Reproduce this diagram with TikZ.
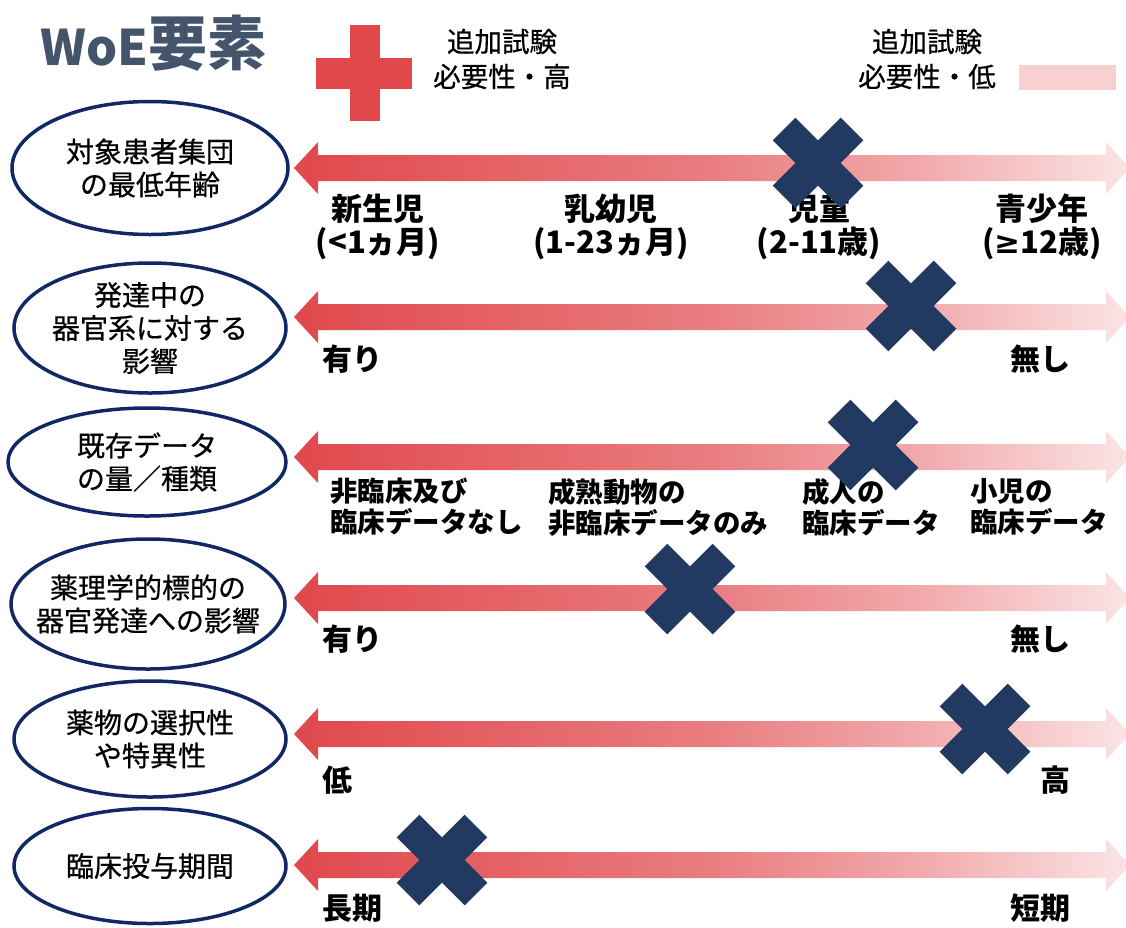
\documentclass[tikz,border=0pt]{standalone}
\usepackage{fontspec}
\setmainfont{Noto Sans CJK JP}
\newfontfamily\medfont{Noto Sans CJK JP}[FakeBold=0.6]
\newfontfamily\dvfont{DejaVu Sans}
\usetikzlibrary{shapes.geometric}
\definecolor{redA}{RGB}{224,72,76}
\definecolor{midA}{RGB}{233,125,128}
\definecolor{midB}{RGB}{241,170,172}
\definecolor{pinkA}{RGB}{251,228,229}
\definecolor{legpink}{RGB}{248,208,210}
\definecolor{navyX}{RGB}{34,58,98}
\definecolor{ovalc}{RGB}{17,40,100}
\definecolor{titlec}{RGB}{68,84,106}
\pgfdeclarehorizontalshading{arrowshade}{100bp}{color(0bp)=(redA); color(25bp)=(redA); color(50bp)=(midA); color(62.5bp)=(midB); color(75bp)=(pinkA); color(100bp)=(pinkA)}
\begin{document}
\begin{tikzpicture}[x=1pt,y=-1pt,
  oval/.style={ellipse, draw=ovalc, line width=3.5pt, inner sep=-40pt, align=center, font=\fontsize{28}{33}\selectfont\medfont},
  labA/.style={inner sep=0pt, align=center, font=\fontsize{31}{33}\selectfont\bfseries},
  labB/.style={inner sep=0pt, anchor=west, font=\fontsize{30}{33}\selectfont\bfseries},
  labC/.style={inner sep=0pt, anchor=west, align=left, font=\fontsize{27.5}{31}\selectfont\bfseries},
  legtext/.style={inner sep=0pt, align=center, font=\fontsize{27.5}{35}\selectfont\medfont},
  xmark/.style={draw=navyX, line width=32pt, line cap=butt},
  bigarrow/.style={shading=arrowshade, draw=none}]
\useasboundingbox (0,0) rectangle (1126,927);

% title and legend
\node[inner sep=0pt, anchor=west, text=titlec, font=\bfseries] (title) at (40,43)
  {{\fontsize{49}{54}\selectfont WoE}{\fontsize{59}{64}\selectfont 要素}};
\fill[redA] (350,25) rectangle (380,121);
\fill[redA] (316,58) rectangle (412,89);
\coordinate (plus) at (365,73);
\node[legtext] (leghigh) at (502,59) {追加試験\\必要性・高};
\node[legtext] (leglow) at (927,59) {追加試験\\必要性・低};
\fill[legpink] (1019,65) rectangle (1116,90);
\coordinate (pinkbar) at (1067,77);

% ellipses
\node[oval, minimum width=276pt, minimum height=133pt] (e1) at (150,168) {対象患者集団\\の最低年齢};
\node[oval, minimum width=272pt, minimum height=130pt] (e2) at (150,328) {発達中の\\器官系に対する\\影響};
\node[oval, minimum width=278pt, minimum height=108pt] (e3) at (147,462) {既存データ\\の量／種類};
\node[oval, minimum width=274pt, minimum height=130pt] (e4) at (148,604) {薬理学的標的の\\器官発達への影響};
\node[oval, minimum width=272pt, minimum height=116pt] (e5) at (150,739) {薬物の選択性\\や特異性};
\node[oval, minimum width=272pt, minimum height=115pt] (e6) at (150,866) {臨床投与期間};

% arrows
\foreach \c [count=\i] in {168,317,457,598,734,865}{
  \coordinate (arrL\i) at (294,\c);
  \coordinate (arrR\i) at (1130,\c);
  \shade[bigarrow] (arrL\i) -- (318,\c-26) -- (318,\c-13) -- (1106,\c-13) -- (1106,\c-26)
     -- (arrR\i) -- (1106,\c+26) -- (1106,\c+13) -- (318,\c+13) -- (318,\c+26) -- cycle;
}

% row 1 labels
\node[labA] (l1a) at (378,227) {新生児\\(<1ヵ月)};
\node[labA] (l1b) at (611,227) {乳幼児\\(1-23ヵ月)};
\node[labA] (l1c) at (819,227) {児童\\(2-11歳)};
\node[labA] (l1d) at (1042,227) {青少年\\({\dvfont\bfseries ≥}12歳)};
% row 2
\node[labB] (l2a) at (322,359) {有り};
\node[labB] (l2b) at (1010,359) {無し};
% row 3
\node[labC] (l3a) at (330,507) {非臨床及び\\臨床データなし};
\node[labC] (l3b) at (548,507) {成熟動物の\\非臨床データのみ};
\node[labC] (l3c) at (802,507) {成人の\\臨床データ};
\node[labC] (l3d) at (970,507) {小児の\\臨床データ};
% row 4
\node[labB] (l4a) at (322,639) {有り};
\node[labB] (l4b) at (1010,639) {無し};
% row 5
\node[labB] (l5a) at (322,780) {低};
\node[labB] (l5b) at (1040,780) {高};
% row 6
\node[labB] (l6a) at (322,908) {長期};
\node[labB] (l6b) at (1010,908) {短期};

% cross marks
\foreach \x/\y [count=\i] in {818/163, 911/306, 873/445, 690/589, 985/729, 442/860}{
  \coordinate (X\i) at (\x,\y);
  \draw[xmark] (\x-34,\y-34) -- (\x+34,\y+34) (\x-34,\y+34) -- (\x+34,\y-34);
}
\end{tikzpicture}
\end{document}
